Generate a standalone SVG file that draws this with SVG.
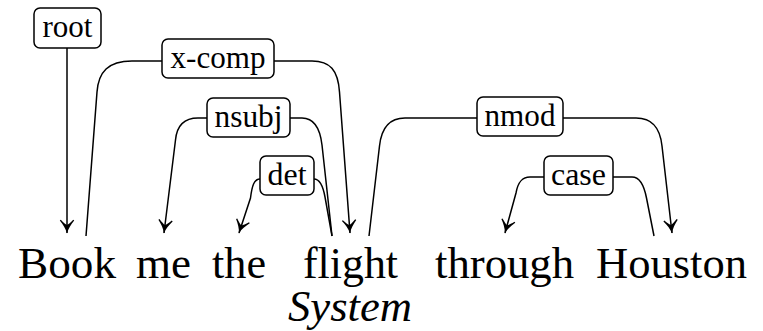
<svg xmlns="http://www.w3.org/2000/svg" width="763" height="331" viewBox="0 0 763 331">
<style>
.lbl rect{fill:#fff;stroke:#000;stroke-width:1.5}
.lbl text{font-family:'Liberation Serif','DejaVu Serif',serif;font-size:31px;text-anchor:middle;fill:#000}
.word{font-family:'Liberation Serif','DejaVu Serif',serif;font-size:45px;fill:#000}
.it{font-family:'Liberation Serif','DejaVu Serif',serif;font-style:italic}
.edges path{fill:none;stroke:#000;stroke-width:1.5;marker-end:url(#ah)}
</style>
<defs>
<marker id="ah" markerUnits="userSpaceOnUse" viewBox="-15 -8 16 16" refX="0" refY="0" markerWidth="16" markerHeight="16" orient="auto" overflow="visible">
<path d="M0.5,0 C-4.5,-1.2 -8.5,-4 -12.5,-7.2 L-13.3,-6.2 C-10.5,-3.5 -8.7,-1.5 -8,0 C-8.7,1.5 -10.5,3.5 -13.3,6.2 L-12.5,7.2 C-8.5,4 -4.5,1.2 0.5,0 Z" fill="#000"/>
</marker>
</defs>
<g class="edges" id="connectors">
<path d="M67,48 L67,233"/>
<path d="M86,236 L97,92 C98.5,72 108,61 132,61 L312,61 C330,61 338,70 339.5,92 L350,233"/>
<path d="M332,236 L322,145 C320,128 314,118 302,118 L198,118 C185,118 177,124 175.5,140 L164,233"/>
<path d="M332,236 L325,197 C323,186 320,179 314,179 L260,179 C254,179 252,186 250.5,198 L239,233"/>
<path d="M369,236 L379.5,146 C381.5,127 390,118 405,118 L636,118 C652,118 660,127 662,146 L672,233"/>
<path d="M654,236 L646.5,198 C644,185 640,177 632,177 L530,177 C522,177 518,182 516,193 L505,233"/>
</g>
<g id="root" class="lbl"><rect x="34" y="8" width="67" height="40" rx="6"/><text x="67.5" y="37" textLength="50" lengthAdjust="spacingAndGlyphs">root</text></g>
<g id="xcomp" class="lbl"><rect x="162" y="39" width="112" height="39" rx="6"/><text x="218" y="68" textLength="95" lengthAdjust="spacingAndGlyphs">x-comp</text></g>
<g id="nsubj" class="lbl"><rect x="207" y="98" width="83" height="39" rx="6"/><text x="248.5" y="127" textLength="68" lengthAdjust="spacingAndGlyphs">nsubj</text></g>
<g id="det" class="lbl"><rect x="260" y="156" width="54" height="39" rx="6"/><text x="287" y="185" textLength="39" lengthAdjust="spacingAndGlyphs">det</text></g>
<g id="nmod" class="lbl"><rect x="477" y="97" width="86" height="39" rx="6"/><text x="520" y="126" textLength="71" lengthAdjust="spacingAndGlyphs">nmod</text></g>
<g id="case" class="lbl"><rect x="544" y="156" width="69" height="39" rx="6"/><text x="578.5" y="185" textLength="55" lengthAdjust="spacingAndGlyphs">case</text></g>
<g id="words">
<text class="word" x="18" y="278" textLength="98" lengthAdjust="spacingAndGlyphs">Book</text>
<text class="word" x="136" y="278" textLength="55" lengthAdjust="spacingAndGlyphs">me</text>
<text class="word" x="212" y="278" textLength="54" lengthAdjust="spacingAndGlyphs">the</text>
<text class="word" x="303" y="278" textLength="95" lengthAdjust="spacingAndGlyphs">flight</text>
<text class="word" x="435" y="278" textLength="139" lengthAdjust="spacingAndGlyphs">through</text>
<text class="word" x="596" y="278" textLength="151" lengthAdjust="spacingAndGlyphs">Houston</text>
<text class="word it" x="288" y="321" font-size="43" textLength="124" lengthAdjust="spacingAndGlyphs">System</text>
</g>
</svg>
